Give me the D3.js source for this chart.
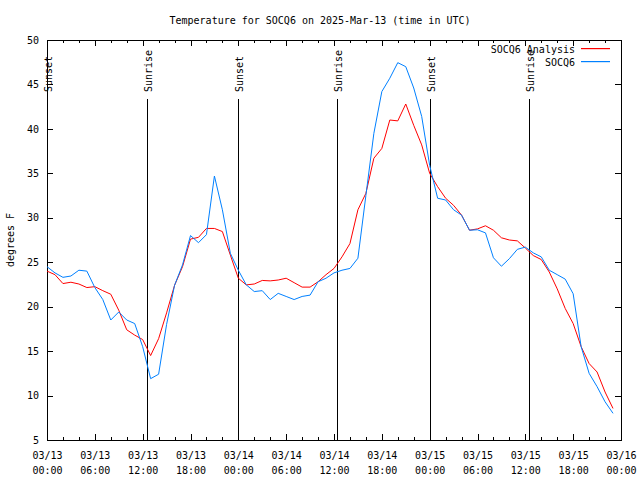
<!DOCTYPE html>
<html>
<head>
<meta charset="utf-8">
<script src="https://cdn.jsdelivr.net/npm/d3@7"></script>
<style>
  html, body { margin: 0; padding: 0; background: #fff; }
  svg { display: block; }
  text { font-family: "DejaVu Sans Mono", monospace; font-size: 10px; fill: #000; }
</style>
</head>
<body>
<svg id="chart" width="640" height="480"></svg>
<script>
// ---------------- data ----------------
const chartTitle = "Temperature for SOCQ6 on 2025-Mar-13 (time in UTC)";
const yAxisLabel = "degrees F";
const seriesNames = ["SOCQ6 Analysis", "SOCQ6"];
const startTimeUTC = "2025-03-13T00:00:00Z";
const endTimeUTC = "2025-03-16T00:00:00Z";
const yTickValues = [5, 10, 15, 20, 25, 30, 35, 40, 45, 50];

// hourly values starting at 03/13 00:00 UTC
const analysisTemps = [
  24.0, 23.6, 22.6, 22.75, 22.55, 22.15, 22.25, 21.8, 21.4, 19.6,
  17.4, 16.8, 16.3, 14.5, 16.4, 19.3, 22.4, 24.5, 27.6, 27.8,
  28.8, 28.8, 28.45, 25.8, 23.2, 22.45, 22.55, 22.95, 22.9, 23.0,
  23.2, 22.7, 22.2, 22.2, 22.8, 23.6, 24.3, 25.6, 27.1, 30.9,
  32.75, 36.7, 37.8, 41.0, 40.9, 42.8, 40.4, 38.2, 35.0, 33.5,
  32.2, 31.4, 30.3, 28.6, 28.75, 29.1, 28.6, 27.75, 27.5, 27.4,
  26.6, 25.75, 25.3, 23.9, 22.0, 19.8, 18.1, 15.5, 13.6, 12.65,
  10.4, 8.55
];
const observedTemps = [
  24.5, 23.8, 23.3, 23.45, 24.1, 24.0, 22.15, 20.8, 18.5, 19.4,
  18.5, 18.1, 15.5, 11.9, 12.4, 18.0, 22.4, 24.7, 28.0, 27.2,
  28.1, 34.7, 30.9, 26.0, 24.1, 22.45, 21.7, 21.8, 20.8, 21.5,
  21.15, 20.8, 21.15, 21.3, 22.8, 23.2, 23.8, 24.1, 24.3, 25.45,
  32.5, 39.5, 44.2, 45.7, 47.45, 47.0, 44.6, 41.4, 35.9, 32.2,
  32.0, 30.9, 30.3, 28.6, 28.65, 28.3, 25.5, 24.55, 25.4, 26.45,
  26.7, 26.05, 25.6, 24.1, 23.6, 23.1, 21.45, 15.5, 12.5, 11.0,
  9.3, 8.0
];

const sunEventLabels = ["Sunset", "Sunrise", "Sunset", "Sunrise", "Sunset", "Sunrise"];
const sunEventTimes = [
  "2025-03-13T00:00:00Z", "2025-03-13T12:29:00Z",
  "2025-03-14T00:01:00Z", "2025-03-14T12:26:00Z",
  "2025-03-15T00:04:00Z", "2025-03-15T12:24:00Z"
];

// ---------------- layout ----------------
const svg = d3.select("#chart");
const L = 47, R = 621, T = 40, B = 440;
const colors = ["#ff0000", "#0080ff"];

const start = new Date(startTimeUTC);
const end = new Date(endTimeUTC);
const x = d3.scaleUtc().domain([start, end]).range([L, R]);
const y = d3.scaleLinear().domain([5, 50]).range([B, T]);

const hourTime = i => d3.utcHour.offset(start, i);

svg.append("rect").attr("width", 640).attr("height", 480).attr("fill", "#fff");

// title
svg.append("text").attr("x", 320).attr("y", 24).attr("text-anchor", "middle").text(chartTitle);

// y label
svg.append("text")
  .attr("transform", "translate(14,240) rotate(-90)")
  .attr("text-anchor", "middle")
  .text(yAxisLabel);

// axes (ticks inward, mirrored)
const styleAxis = g => {
  g.selectAll("path.domain").attr("stroke", "#000").attr("shape-rendering", "crispEdges");
  g.selectAll(".tick line").attr("stroke", "#000").attr("shape-rendering", "crispEdges");
  g.attr("font-family", null).attr("font-size", null);
};

// minor x ticks (every 2 hours)
svg.append("g").attr("transform", `translate(0,${B})`)
  .call(d3.axisBottom(x).ticks(d3.utcHour.every(2)).tickSize(-3).tickSizeOuter(0).tickFormat(""))
  .call(styleAxis);
svg.append("g").attr("transform", `translate(0,${T})`)
  .call(d3.axisTop(x).ticks(d3.utcHour.every(2)).tickSize(-3).tickSizeOuter(0).tickFormat(""))
  .call(styleAxis);

// major x ticks (every 6 hours) with two-line labels
const fmtDate = d3.utcFormat("%m/%d");
const fmtTime = d3.utcFormat("%H:%M");
const xAxisG = svg.append("g").attr("transform", `translate(0,${B})`)
  .call(d3.axisBottom(x).ticks(d3.utcHour.every(6)).tickSize(-6).tickSizeOuter(0).tickFormat(""))
  .call(styleAxis);
xAxisG.selectAll(".tick").each(function(d) {
  const t = d3.select(this).select("text");
  t.attr("y", null).attr("dy", null);
  t.append("tspan").attr("x", 0).attr("y", 19).text(fmtDate(d));
  t.append("tspan").attr("x", 0).attr("y", 34).text(fmtTime(d));
});
svg.append("g").attr("transform", `translate(0,${T})`)
  .call(d3.axisTop(x).ticks(d3.utcHour.every(6)).tickSize(-6).tickSizeOuter(0).tickFormat(""))
  .call(styleAxis);

// y axes
svg.append("g").attr("transform", `translate(${L},0)`)
  .call(d3.axisLeft(y).tickValues(yTickValues).tickSize(-6).tickSizeOuter(0).tickPadding(8).tickFormat(d3.format("d")))
  .call(styleAxis);
svg.append("g").attr("transform", `translate(${R},0)`)
  .call(d3.axisRight(y).tickValues(yTickValues).tickSize(-6).tickSizeOuter(0).tickFormat(""))
  .call(styleAxis);

// sunrise / sunset markers
sunEventTimes.forEach((ts, i) => {
  const xp = Math.round(x(new Date(ts))) + 0.5;
  if (xp > L + 1) {
    svg.append("line")
      .attr("x1", xp).attr("x2", xp).attr("y1", 99).attr("y2", B)
      .attr("stroke", "#000").attr("stroke-width", 1).attr("shape-rendering", "crispEdges");
  }
  svg.append("text")
    .attr("transform", `translate(${xp + 4},92) rotate(-90)`)
    .attr("text-anchor", "start")
    .text(sunEventLabels[i]);
});

// series
const line = d3.line()
  .x((d, i) => x(hourTime(i)))
  .y(d => y(d));

[analysisTemps, observedTemps].forEach((vals, k) => {
  svg.append("path")
    .datum(vals)
    .attr("fill", "none")
    .attr("stroke", colors[k])
    .attr("stroke-width", 1)
    .attr("d", line);
});

// legend
const legendY = [49, 62];
seriesNames.forEach((name, k) => {
  svg.append("text").attr("x", 575).attr("y", legendY[k] + 4).attr("text-anchor", "end").text(name);
  svg.append("rect")
    .attr("x", 581).attr("y", legendY[k] - 1)
    .attr("width", 29).attr("height", 1.2)
    .attr("fill", colors[k]);
});
</script>
</body>
</html>
